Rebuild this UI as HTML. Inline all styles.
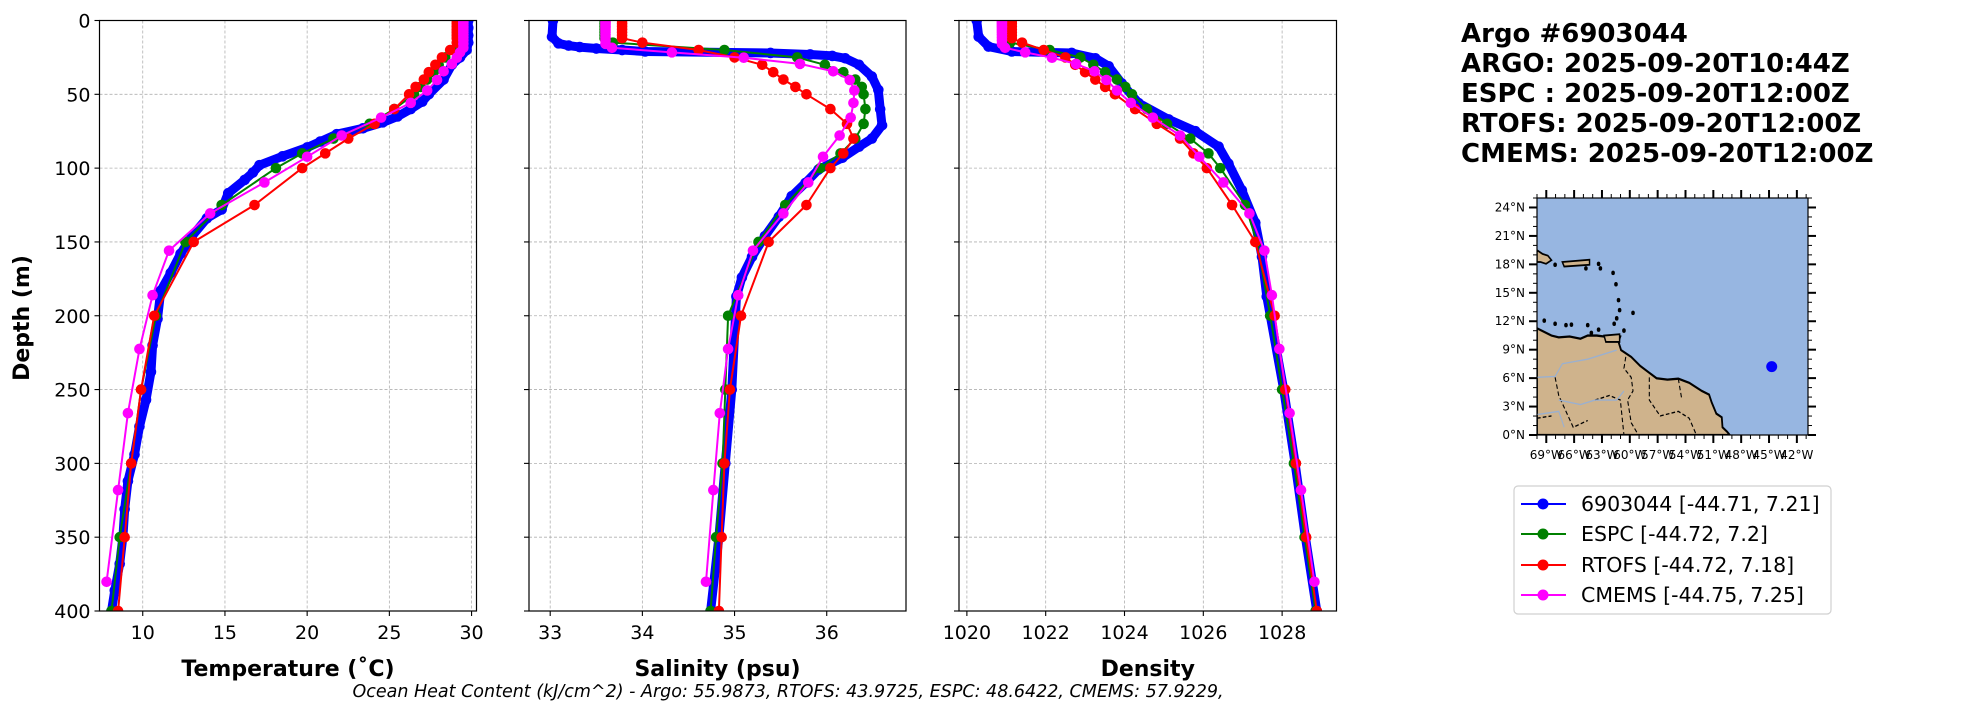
<!DOCTYPE html>
<html><head><meta charset="utf-8"><style>
html,body{margin:0;padding:0;background:#fff;}
svg{display:block;font-family:"DejaVu Sans","Liberation Sans",sans-serif;}
</style></head><body>
<svg id="fig" width="1967" height="712" viewBox="0 0 1967 712" xmlns="http://www.w3.org/2000/svg">
<rect width="1967" height="712" fill="#fff"/>
<g id="panels"></g>
<text x="0" y="0" transform="translate(29,318) rotate(-90)" text-anchor="middle" font-weight="bold" font-size="22">Depth (m)</text>
<text x="788" y="697" text-anchor="middle" font-style="italic" font-size="17.5">Ocean Heat Content (kJ/cm^2) - Argo: 55.9873,  RTOFS: 43.9725,  ESPC: 48.6422,  CMEMS: 57.9229,</text>
<g font-weight="bold" font-size="26">
<text x="1461" y="42">Argo #6903044</text>
<text x="1461" y="72">ARGO: 2025-09-20T10:44Z</text>
<text x="1461" y="102">ESPC : 2025-09-20T12:00Z</text>
<text x="1461" y="132">RTOFS: 2025-09-20T12:00Z</text>
<text x="1461" y="162">CMEMS: 2025-09-20T12:00Z</text>
</g>
<g id="map"></g>
<g>
<rect x="1514" y="486" width="317" height="128" rx="4" fill="#fff" stroke="#d0d0d0" stroke-width="1.2"/>
<g><line x1="1521" y1="504" x2="1566" y2="504" stroke="#0000ff" stroke-width="2"/><circle cx="1543" cy="504" r="5.5" fill="#0000ff"/><text x="1581" y="511" font-size="20.5">6903044 [-44.71, 7.21]</text></g>
<g><line x1="1521" y1="534" x2="1566" y2="534" stroke="#008000" stroke-width="2"/><circle cx="1543" cy="534" r="5.5" fill="#008000"/><text x="1581" y="541" font-size="20.5">ESPC [-44.72, 7.2]</text></g>
<g><line x1="1521" y1="565" x2="1566" y2="565" stroke="#ff0000" stroke-width="2"/><circle cx="1543" cy="565" r="5.5" fill="#ff0000"/><text x="1581" y="572" font-size="20.5">RTOFS [-44.72, 7.18]</text></g>
<g><line x1="1521" y1="595" x2="1566" y2="595" stroke="#ff00ff" stroke-width="2"/><circle cx="1543" cy="595" r="5.5" fill="#ff00ff"/><text x="1581" y="602" font-size="20.5">CMEMS [-44.75, 7.25]</text></g>
</g>
</svg>
<script>
const depthTicks=[0,50,100,150,200,250,300,350,400];
const tempTicks=[10,15,20,25,30];
const salTicks=[33,34,35,36];
const denTicks=[1020,1022,1024,1026,1028];

const argoTempDepth=[0,5,10,15,20,25,30,40,50,55,60,65,69,73,77,82,86,92,98,103,108,117,128,134,146,158,171,183,202,220,238,257,275,294,312,331,349,368,386,400];
const argoTemp=[29.8,29.8,29.8,29.8,29.7,29.3,28.8,28.3,27.4,27.0,26.3,25.5,24.6,23.4,21.8,20.8,20.0,18.5,17.1,16.7,16.2,15.2,14.8,13.9,13.0,12.3,11.7,11.1,10.9,10.6,10.5,10.2,9.8,9.5,9.1,8.9,8.8,8.6,8.3,8.1];
const argoSalDepth=[0,11,15.5,17,18,19,20,21,22,23,24,25.6,30,38,47,60,71,80,85.5,93,101,110,119,133,146,160,174,187,200,250,300,350,400];
const argoSal=[33.03,33.02,33.09,33.2,33.32,33.5,33.78,34.03,35.39,35.82,36.06,36.2,36.35,36.49,36.56,36.58,36.6,36.49,36.35,36.17,35.91,35.77,35.62,35.48,35.33,35.19,35.08,35.02,35.01,34.97,34.9,34.83,34.74];
const argoDenDepth=[0,11,17.7,21,22,25.6,31,42.6,56,67,75,85.5,97,115,137,160,187,200,250,300,350,400];
const argoDen=[1020.25,1020.3,1020.55,1021.14,1022.66,1023.26,1023.6,1023.93,1024.36,1025.12,1025.8,1026.39,1026.64,1026.98,1027.32,1027.49,1027.61,1027.7,1028.04,1028.33,1028.59,1028.88];

const modelDepth=[0,2,4,6,8,10,12,15,20,25,30,35,40,45,50,60,70,80,90,100,125,150,200,250,300,350,400];
const espcTemp=[29.3,29.3,29.3,29.3,29.3,29.3,29.3,29.3,28.9,28.4,28.0,27.7,27.3,26.9,26.5,25.3,23.8,21.6,19.7,18.1,14.8,12.6,10.8,9.9,9.3,8.6,8.1];
const espcSal=[33.59,33.59,33.59,33.59,33.59,33.59,33.59,33.68,34.89,35.68,35.98,36.18,36.31,36.38,36.4,36.42,36.4,36.31,36.15,35.93,35.55,35.26,34.93,34.9,34.87,34.8,34.74];
const espcDen=[1021.0,1021.0,1021.0,1021.0,1021.0,1021.0,1021.0,1021.1,1022.1,1022.88,1023.21,1023.51,1023.81,1024.02,1024.19,1024.57,1025.08,1025.67,1026.13,1026.43,1027.06,1027.36,1027.7,1028.0,1028.3,1028.57,1028.85];
const rtofsTemp=[29.1,29.1,29.1,29.1,29.1,29.1,29.1,29.1,28.7,28.2,27.8,27.4,27.1,26.6,26.2,25.3,24.1,22.5,21.1,19.7,16.8,13.1,10.7,9.9,9.3,8.9,8.5];
const rtofsSal=[33.78,33.78,33.78,33.78,33.78,33.78,33.78,34.0,34.61,35.0,35.3,35.42,35.53,35.66,35.78,36.04,36.22,36.29,36.18,36.04,35.78,35.37,35.07,34.95,34.89,34.86,34.83];
const rtofsDen=[1021.14,1021.14,1021.14,1021.14,1021.14,1021.14,1021.14,1021.4,1021.95,1022.5,1022.75,1023.0,1023.26,1023.51,1023.76,1024.27,1024.82,1025.41,1025.75,1026.09,1026.73,1027.32,1027.81,1028.08,1028.35,1028.61,1028.88];

const cmemsDepth=[0.5,1.5,2.6,3.8,5,6.4,7.9,9.6,11.4,13.5,15.8,18.5,21.6,25.2,29.4,34.4,40.3,47.4,55.8,65.8,77.9,92.3,109.7,130.7,155.9,186.1,222.5,266.0,318.1,380.2];
const cmemsTemp=[29.5,29.5,29.5,29.5,29.5,29.5,29.5,29.5,29.5,29.5,29.5,29.5,29.3,29.1,28.8,28.3,27.9,27.3,26.3,24.5,22.1,20.0,17.4,14.1,11.6,10.6,9.8,9.1,8.5,7.8];
const cmemsSal=[33.6,33.6,33.6,33.6,33.6,33.6,33.6,33.6,33.6,33.6,33.6,33.67,34.32,35.1,35.71,36.07,36.25,36.3,36.29,36.26,36.14,35.96,35.8,35.53,35.2,35.04,34.93,34.84,34.77,34.69];
const cmemsDen=[1020.89,1020.89,1020.89,1020.89,1020.89,1020.89,1020.89,1020.89,1020.89,1020.89,1020.89,1020.97,1021.48,1022.16,1022.77,1023.24,1023.54,1023.81,1024.16,1024.72,1025.41,1025.9,1026.51,1027.17,1027.55,1027.74,1027.93,1028.19,1028.48,1028.82];

const argoLon=[-44.71];
const argoLat=[7.21];
const mapLatTicks=[0,3,6,9,12,15,18,21,24];
const mapLonTicks=[-69,-66,-63,-60,-57,-54,-51,-48,-45,-42];

const NS="http://www.w3.org/2000/svg";
function mk(tag,attrs,parent){const e=document.createElementNS(NS,tag);for(const k in attrs)e.setAttribute(k,attrs[k]);parent.appendChild(e);return e;}
const Y0=20.5,Y1=611;
function yScale(d){return Y0+(d/400)*(Y1-Y0);}

const panelsG=document.getElementById('panels');
const panelDefs=[
 {name:'temperature',x0:99.5,x1:476.5,min:7.37,max:30.3,ticks:tempTicks,label:'Temperature (˚C)',showY:true,
  series:[[argoTempDepth,argoTemp,'#0000ff','argo'],[modelDepth,espcTemp,'#008000','espc'],[modelDepth,rtofsTemp,'#ff0000','rtofs'],[cmemsDepth,cmemsTemp,'#ff00ff','cmems']]},
 {name:'salinity',x0:529,x1:906,min:32.77,max:36.86,ticks:salTicks,label:'Salinity (psu)',showY:false,
  series:[[argoSalDepth,argoSal,'#0000ff','argo'],[modelDepth,espcSal,'#008000','espc'],[modelDepth,rtofsSal,'#ff0000','rtofs'],[cmemsDepth,cmemsSal,'#ff00ff','cmems']]},
 {name:'density',x0:959,x1:1336.5,min:1019.8,max:1029.38,ticks:denTicks,label:'Density',showY:false,
  series:[[argoDenDepth,argoDen,'#0000ff','argo'],[modelDepth,espcDen,'#008000','espc'],[modelDepth,rtofsDen,'#ff0000','rtofs'],[cmemsDepth,cmemsDen,'#ff00ff','cmems']]}
];
panelDefs.forEach((p,pi)=>{
  const xs=v=>p.x0+(v-p.min)/(p.max-p.min)*(p.x1-p.x0);
  const g=mk('g',{},panelsG);
  
  
  const cp=mk('clipPath',{id:'clip'+pi},g);
  mk('rect',{x:p.x0,y:Y0,width:p.x1-p.x0,height:Y1-Y0},cp);
  p.ticks.forEach(t=>{
    const x=xs(t);
    const gl=mk('line',{x1:x,y1:Y0,x2:x,y2:Y1,stroke:'#b0b0b0','stroke-width':0.8,'stroke-dasharray':'3,2'},g);
    
    
    const tk=mk('line',{x1:x,y1:Y1,x2:x,y2:Y1+5,stroke:'#000','stroke-width':1.1},g);
    
    
    const tl=mk('text',{x:x,y:639,'text-anchor':'middle','font-size':19},g);
    tl.textContent=String(t);
    
    
  });
  depthTicks.forEach(d=>{
    const y=yScale(d);
    const gl=mk('line',{x1:p.x0,y1:y,x2:p.x1,y2:y,stroke:'#b0b0b0','stroke-width':0.8,'stroke-dasharray':'3,2'},g);
    
    
    const tk=mk('line',{x1:p.x0-5,y1:y,x2:p.x0,y2:y,stroke:'#000','stroke-width':1.1},g);
    
    
    if(p.showY){
      const tl=mk('text',{x:p.x0-9,y:y+7,'text-anchor':'end','font-size':19},g);
      tl.textContent=String(d);
      
      
    }
  });
  const sg=mk('g',{'clip-path':'url(#clip'+pi+')'},g);
  p.series.forEach(([dep,val,col,nm])=>{
    const pts=dep.map((d,i)=>xs(val[i]).toFixed(1)+','+yScale(d).toFixed(1)).join(' ');
    if(nm==='argo'){
      const th=mk('polyline',{points:pts,fill:'none',stroke:col,'stroke-width':9,'stroke-linejoin':'round','stroke-linecap':'round'},sg);
      
      
    }
    const pl=mk('polyline',{points:pts,fill:'none',stroke:col,'stroke-width':2,'stroke-linejoin':'round'},sg);
    
    
    dep.forEach((d,i)=>{
      const c=mk('circle',{cx:xs(val[i]),cy:yScale(d),r:5.3,fill:col},sg);
      
      
    });
  });
  const fr=mk('rect',{x:p.x0,y:Y0,width:p.x1-p.x0,height:Y1-Y0,fill:'none',stroke:'#000','stroke-width':1.2},g);
  
  
  const xl=mk('text',{x:(p.x0+p.x1)/2,y:676,'text-anchor':'middle','font-size':22,'font-weight':'bold'},g);
  xl.textContent=p.label;
  
  
});

const mapG=document.getElementById('map');
const MX0=1537,MX1=1808,MY0=198,MY1=435;
const lonS=lon=>MX0+(lon+70)*(MX1-MX0)/29.2;
const latS=lat=>MY1-lat*(MY1-MY0)/25;
mk('rect',{x:MX0,y:MY0,width:MX1-MX0,height:MY1-MY0,fill:'#97b6e1'},mapG);
const land=mk('svg',{x:MX0,y:MY0,width:MX1-MX0,height:MY1-MY0,viewBox:'380 435 748 522',preserveAspectRatio:'none'},mapG);


mk('path',{d:'M380,722 L420,738 440,742 470,740 500,745 520,738 545,738 565,740 600,738 610,740 605,752 612,770 640,785 665,805 690,820 710,832 740,835 770,833 800,842 835,860 855,868 862,885 875,910 890,918 892,940 905,950 912,957 L380,957 Z',fill:'#cfb38c',stroke:'#000','stroke-width':5},land);
mk('path',{d:'M380,550 L395,558 410,562 420,572 405,580 390,576 380,576Z M450,576 L525,571 L525,582 L455,586Z M565,738 L608,735 L608,752 L570,752Z',fill:'#cfb38c',stroke:'#000','stroke-width':4},land);
[[430,582],[515,590],[550,580],[555,590],[590,600],[598,625],[605,660],[608,682],[600,700],[593,712],[645,688],[620,727],[400,705],[430,712],[460,715],[475,714],[520,715],[550,725],[530,732]].forEach(([x,y])=>mk('circle',{cx:x,cy:y,r:5,fill:'#000'},land));
mk('path',{d:'M625,785 L620,810 640,830 645,860 630,880 640,930 660,957 M690,830 L690,880 720,915 770,905 800,920 820,957 M540,880 L580,870 610,880 620,957 M430,830 L440,870 480,940 520,925 M770,833 L780,880 M380,920 L420,915',fill:'none',stroke:'#000','stroke-width':3,'stroke-dasharray':'10,6'},land);
mk('path',{d:'M380,830 L430,828 450,800 520,790 600,770 M440,880 L500,890 540,880 600,880 620,860 M380,912 L440,905 455,940',fill:'none',stroke:'#9ab0d0','stroke-width':3},land);
mapLatTicks.forEach(l=>{
  const y=latS(l);
  mk('line',{x1:MX0-8,y1:y,x2:MX0,y2:y,stroke:'#000','stroke-width':2},mapG);
  mk('line',{x1:MX1,y1:y,x2:MX1+8,y2:y,stroke:'#000','stroke-width':2},mapG);
  const t=mk('text',{x:MX0-12,y:y+4,'text-anchor':'end','font-size':12},mapG);
  t.textContent=l+'°N';
  
  
});
for(let l=0;l<=25;l++){const y=latS(l);mk('line',{x1:MX0-4,y1:y,x2:MX0,y2:y,stroke:'#000','stroke-width':1},mapG);mk('line',{x1:MX1,y1:y,x2:MX1+4,y2:y,stroke:'#000','stroke-width':1},mapG);}
mapLonTicks.forEach(l=>{
  const x=lonS(l);
  mk('line',{x1:x,y1:MY1,x2:x,y2:MY1+8,stroke:'#000','stroke-width':2},mapG);
  mk('line',{x1:x,y1:MY0-8,x2:x,y2:MY0,stroke:'#000','stroke-width':2},mapG);
  const t=mk('text',{x:x,y:MY1+24,'text-anchor':'middle','font-size':12},mapG);
  t.textContent=(-l)+'°W';
  
  
});
for(let l=-70;l<=-41;l++){const x=lonS(l);mk('line',{x1:x,y1:MY1,x2:x,y2:MY1+4,stroke:'#000','stroke-width':1},mapG);mk('line',{x1:x,y1:MY0-4,x2:x,y2:MY0,stroke:'#000','stroke-width':1},mapG);}
mk('rect',{x:MX0,y:MY0,width:MX1-MX0,height:MY1-MY0,fill:'none',stroke:'#000','stroke-width':1.2},mapG);
argoLon.forEach((lo,i)=>{
  const c=mk('circle',{cx:lonS(lo),cy:latS(argoLat[i]),r:5.5,fill:'#0000ff'},mapG);
  
  
});
</script>
</body></html>
